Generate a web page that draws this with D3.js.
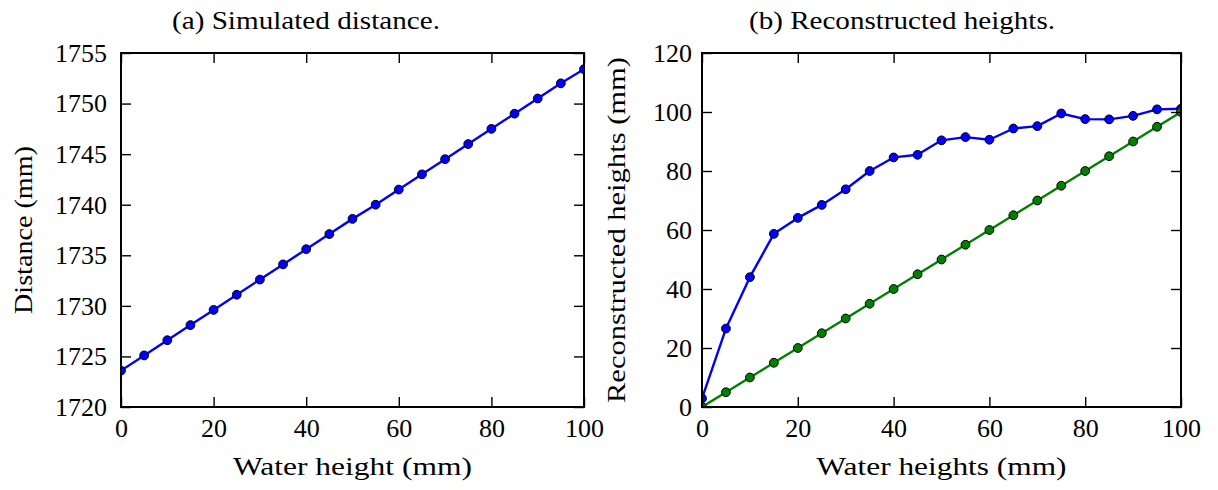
<!DOCTYPE html>
<html>
<head>
<meta charset="utf-8">
<script src="https://cdn.jsdelivr.net/npm/d3@7"></script>
<style>
  html, body { margin: 0; padding: 0; background: #fff; }
  svg { display: block; }
</style>
</head>
<body>
<svg id="chart" width="1218" height="490"></svg>
<script>
// Water heights sampled every 5 mm
const waterHeights = [0, 5, 10, 15, 20, 25, 30, 35, 40, 45, 50, 55, 60, 65, 70, 75, 80, 85, 90, 95, 100];

// (a) simulated sensor-to-surface distance (mm)
const simulatedDistance = [1723.6, 1725.1, 1726.6, 1728.1, 1729.6, 1731.1, 1732.6, 1734.1, 1735.6, 1737.1,
                           1738.6, 1740.0, 1741.5, 1743.0, 1744.5, 1746.0, 1747.5, 1749.0, 1750.5, 1752.0, 1753.4];

// (b) reconstructed heights (mm) and the ground-truth reference
const reconstructedHeights = [2.9, 26.6, 44.0, 58.7, 64.1, 68.5, 73.8, 80.0, 84.6, 85.5,
                              90.4, 91.5, 90.6, 94.4, 95.2, 99.5, 97.6, 97.5, 98.7, 100.9, 101.1];
const trueHeights = [0, 5, 10, 15, 20, 25, 30, 35, 40, 45, 50, 55, 60, 65, 70, 75, 80, 85, 90, 95, 100];

// Tick values
const xTicks = [0, 20, 40, 60, 80, 100];
const distanceTicks = [1720, 1725, 1730, 1735, 1740, 1745, 1750, 1755];
const heightTicks = [0, 20, 40, 60, 80, 100, 120];

const SERIF = "'Liberation Serif', 'Times New Roman', serif";
const FONT = 26;
const TICK = 10;

const svg = d3.select("#chart");
svg.append("rect").attr("width", 1218).attr("height", 490).attr("fill", "#fff");

function panel(opts) {
  const { id, left, right, top, bottom, yDomain, yTicks, series, title, titleX, titleLen,
          xLabel, xLabelLen, yLabel, yLabelX, yLabelLen, yPad } = opts;

  const x = d3.scaleLinear().domain([0, 100]).range([left, right]);
  const y = d3.scaleLinear().domain(yDomain).range([bottom, top]);

  const g = svg.append("g");

  // clip for data marks
  svg.append("clipPath").attr("id", "clip-" + id)
    .append("rect")
    .attr("x", left).attr("y", top)
    .attr("width", right - left).attr("height", bottom - top);

  const data = g.append("g").attr("clip-path", `url(#clip-${id})`);
  const line = d3.line().x(d => x(d[0])).y(d => y(d[1]));

  series.forEach(s => {
    const pts = waterHeights.map((w, i) => [w, s.values[i]]);
    data.append("path")
      .attr("d", line(pts))
      .attr("fill", "none")
      .attr("stroke", s.color)
      .attr("stroke-width", 2.4)
      .attr("stroke-linejoin", "round");
    data.selectAll(null).data(pts).enter().append("circle")
      .attr("cx", d => x(d[0]))
      .attr("cy", d => y(d[1]))
      .attr("r", 4.4)
      .attr("fill", s.color)
      .attr("stroke", "#000")
      .attr("stroke-width", 1);
  });

  // axes with inward ticks on all four sides
  const bottomAxis = g.append("g").attr("transform", `translate(0,${bottom})`)
    .call(d3.axisBottom(x).tickValues(xTicks).tickSize(-TICK).tickPadding(11).tickFormat(d3.format("d")));
  g.append("g").attr("transform", `translate(0,${top})`)
    .call(d3.axisTop(x).tickValues(xTicks).tickSize(-TICK).tickFormat(""));
  g.append("g").attr("transform", `translate(${left},0)`)
    .call(d3.axisLeft(y).tickValues(yTicks).tickSize(-TICK).tickPadding(yPad).tickFormat(d3.format("d")));
  g.append("g").attr("transform", `translate(${right},0)`)
    .call(d3.axisRight(y).tickValues(yTicks).tickSize(-TICK).tickFormat(""));

  g.selectAll(".domain").remove();
  g.selectAll(".tick line").attr("stroke", "#000").attr("stroke-width", 1.4);
  g.selectAll(".tick text")
    .attr("font-size", FONT)
    .attr("font-family", SERIF)
    .style("font-family", SERIF)
    .attr("fill", "#000");
  bottomAxis.selectAll(".tick text").attr("dy", "0.72em");

  // frame
  g.append("rect")
    .attr("x", left).attr("y", top)
    .attr("width", right - left).attr("height", bottom - top)
    .attr("fill", "none").attr("stroke", "#000").attr("stroke-width", 2);

  // titles and labels
  const label = sel => sel
    .attr("text-anchor", "middle")
    .attr("font-size", FONT)
    .style("font-family", SERIF)
    .attr("fill", "#000")
    .attr("lengthAdjust", "spacingAndGlyphs");

  g.append("text").attr("x", titleX).attr("y", 29)
    .call(label).attr("textLength", titleLen)
    .text(title);
  g.append("text").attr("x", (left + right) / 2).attr("y", 475)
    .call(label).attr("textLength", xLabelLen)
    .text(xLabel);
  g.append("text")
    .attr("transform", `translate(${yLabelX},${(top + bottom) / 2}) rotate(-90)`)
    .call(label).attr("textLength", yLabelLen)
    .text(yLabel);
}

panel({
  id: "a", left: 121, right: 584, top: 53, bottom: 407,
  yDomain: [1720, 1755], yTicks: distanceTicks, yPad: 14,
  series: [{ values: simulatedDistance, color: "#0000ff" }],
  title: "(a) Simulated distance.", titleX: 306, titleLen: 268,
  xLabel: "Water height (mm)", xLabelLen: 239,
  yLabel: "Distance (mm)", yLabelX: 32, yLabelLen: 168
});

panel({
  id: "b", left: 702, right: 1181, top: 53, bottom: 407,
  yDomain: [0, 120], yTicks: heightTicks, yPad: 10,
  series: [
    { values: reconstructedHeights, color: "#0000ff" },
    { values: trueHeights, color: "#008000" }
  ],
  title: "(b) Reconstructed heights.", titleX: 902, titleLen: 306,
  xLabel: "Water heights (mm)", xLabelLen: 250,
  yLabel: "Reconstructed heights (mm)", yLabelX: 625, yLabelLen: 346
});
</script>
</body>
</html>
